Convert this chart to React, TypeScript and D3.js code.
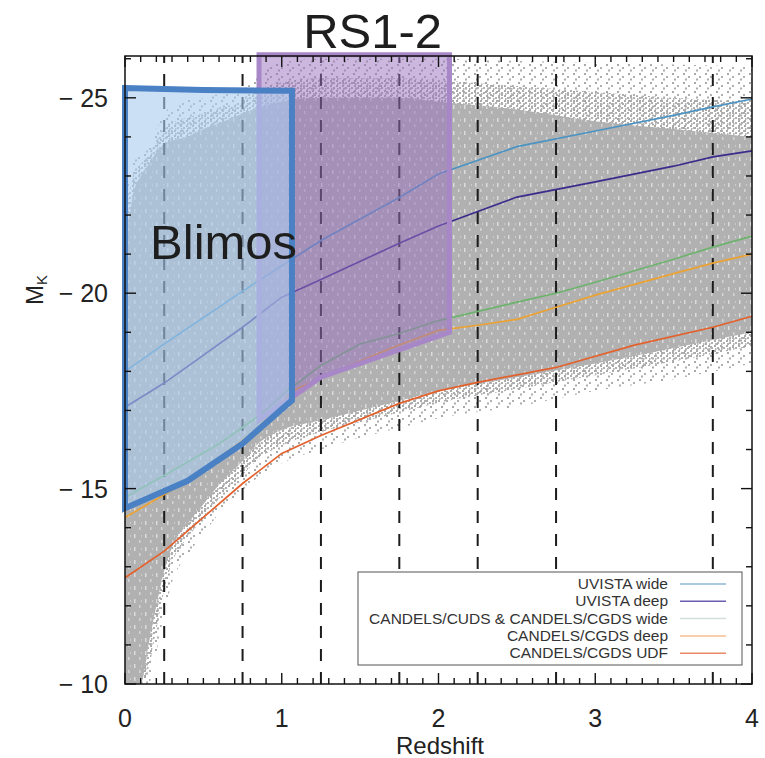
import React from 'react';
import * as d3 from 'd3';

const W = 765;
const H = 758;

// axis ticks
const xTickValues = [0, 1, 2, 3, 4];
const yTickValues = [-25, -20, -15, -10];
const dashedRedshifts = [0.25, 0.75, 1.25, 1.75, 2.25, 2.75, 3.75];

// gray galaxy cloud envelope
const cloudZ = [0, 0.05, 0.1, 0.15, 0.2, 0.25, 0.3, 0.4, 0.5, 0.6, 0.75, 0.85, 1.0, 1.25, 1.5, 1.75, 2.0, 2.5, 3.0, 3.5, 4.0];
const cloudSparseTop = [-22.5, -23.4, -23.6, -23.8, -24.2, -24.6, -24.8, -24.95, -25.0, -25.1, -25.2, -25.6, -25.9, -26.0, -26.0, -26.0, -26.0, -25.95, -25.9, -25.85, -25.8];
const cloudMidTop = [-21.8, -23.0, -23.3, -23.55, -23.9, -24.2, -24.35, -24.5, -24.6, -24.75, -24.9, -25.2, -25.4, -25.5, -25.5, -25.5, -25.45, -25.3, -25.15, -25.0, -24.9];
const cloudDenseTop = [-21.0, -22.5, -23.0, -23.3, -23.6, -23.8, -23.9, -24.0, -24.2, -24.35, -24.6, -24.75, -24.9, -25.0, -25.0, -25.0, -24.9, -24.7, -24.4, -24.2, -24.0];
const cloudDenseBottom = [-10, -10, -10, -11.0, -12.0, -12.9, -13.5, -14.1, -14.6, -15.1, -15.7, -16.15, -16.5, -16.75, -17.0, -17.25, -17.5, -17.85, -18.2, -18.6, -19.0];
const cloudMidBottom = [-10, -10, -10, -10.4, -11.4, -12.4, -13.1, -13.75, -14.25, -14.75, -15.35, -15.75, -16.1, -16.45, -16.7, -16.95, -17.2, -17.55, -17.9, -18.25, -18.65];
const cloudSparseBottom = [-10, -10, -10, -10, -10.8, -11.8, -12.6, -13.3, -13.85, -14.35, -14.95, -15.3, -15.65, -16.0, -16.3, -16.55, -16.8, -17.1, -17.5, -17.8, -18.2];

// completeness curves
const uvistaWideZ = [0, 0.25, 0.75, 1.25, 1.75, 2.0, 2.5, 3.0, 3.5, 3.75, 4.0];
const uvistaWideM = [-18.0, -18.7, -20.05, -21.35, -22.45, -23.05, -23.75, -24.15, -24.55, -24.77, -24.97];
const uvistaDeepZ = [0, 0.25, 0.75, 1.0, 1.25, 1.75, 2.0, 2.5, 3.0, 3.5, 3.75, 4.0];
const uvistaDeepM = [-17.08, -17.7, -19.13, -19.9, -20.35, -21.28, -21.72, -22.46, -22.85, -23.25, -23.49, -23.64];
const candelsWideZ = [0, 0.3, 0.6, 0.85, 1.05, 1.25, 1.5, 1.75, 2.0, 2.5, 2.75, 3.0, 3.5, 3.75, 4.0];
const candelsWideM = [-14.77, -15.45, -16.15, -16.85, -17.55, -18.15, -18.7, -18.97, -19.3, -19.77, -20.0, -20.28, -20.87, -21.18, -21.46];
const candelsDeepZ = [0, 0.4, 0.82, 1.07, 1.25, 1.7, 2.0, 2.25, 2.5, 2.75, 3.0, 3.5, 3.75, 4.0];
const candelsDeepM = [-14.26, -15.2, -16.45, -17.5, -17.85, -18.6, -19.05, -19.18, -19.33, -19.64, -19.95, -20.5, -20.77, -21.0];
const candelsUdfZ = [0, 0.25, 0.75, 1.0, 1.25, 1.75, 2.0, 2.25, 2.75, 3.25, 3.75, 4.0];
const candelsUdfM = [-12.72, -13.4, -15.13, -15.9, -16.36, -17.18, -17.5, -17.72, -18.1, -18.67, -19.13, -19.41];

const seriesNames = ['UVISTA wide', 'UVISTA deep', 'CANDELS/CUDS & CANDELS/CGDS wide', 'CANDELS/CGDS deep', 'CANDELS/CGDS UDF'];
const seriesColors = ['#4b93c3', '#3b2c8c', '#6db36d', '#eba232', '#e2612c'];
const legendColors = ['#8ab8d6', '#6a5fae', '#d3e0d8', '#f4bf90', '#e8896a'];

// selection boxes (redshift, M_K vertices)
const blimosZ = [0, 0.5, 1.065, 1.065, 0.75, 0.4, 0];
const blimosM = [-25.25, -25.2, -25.18, -17.26, -16.15, -15.2, -14.5];
const rsZ = [0.855, 2.07, 2.07, 1.25, 0.855];
const rsM = [-26.1, -26.1, -19.0, -17.85, -16.75];

const blimosLabel = { text: 'Blimos', z: 0.16, m: -20.87 };
const rsLabel = { text: 'RS1-2', z: 1.58, m: -26.28 };

const FONT = "'Liberation Sans', Arial, Helvetica, sans-serif";

export default function App() {
  const x = d3.scaleLinear().domain([0, 4]).range([125, 752]);
  const y = d3.scaleLinear().domain([-10, -26.07]).range([684, 56]);
  const [x0, x1] = x.range();
  const yBot = y(-10);
  const yTop = y(-26.07);

  const band = (lo: number[], hi: number[]) =>
    d3
      .area<number>()
      .x((_, i) => x(cloudZ[i]))
      .y0((_, i) => y(lo[i]))
      .y1((_, i) => y(hi[i]))
      .curve(d3.curveMonotoneX)(cloudZ) as string;

  const sparsePath = band(cloudSparseBottom, cloudSparseTop);
  const midPath = band(cloudMidBottom, cloudMidTop);
  const densePath = band(cloudDenseBottom, cloudDenseTop);

  const seriesZ = [uvistaWideZ, uvistaDeepZ, candelsWideZ, candelsDeepZ, candelsUdfZ];
  const seriesM = [uvistaWideM, uvistaDeepM, candelsWideM, candelsDeepM, candelsUdfM];
  const lineGen = (zs: number[], ms: number[]) =>
    d3
      .line<number>()
      .x((_, i) => x(zs[i]))
      .y((_, i) => y(ms[i]))(zs) as string;

  const polyGen = (zs: number[], ms: number[]) => lineGen(zs, ms) + 'Z';

  const xMinor = d3.range(0, 41).map((i) => i / 10);
  const yMinor = d3.range(-26, -9);

  const legendX0 = 358;
  const legendY0 = 572;
  const legendW = 384;
  const legendH = 93;
  const legendRowY = (i: number) => 584 + i * 17.3;

  return (
    <svg
      width={W}
      height={H}
      viewBox={`0 0 ${W} ${H}`}
      style={{ position: 'absolute', left: 0, top: 0, background: '#fff' }}
      fontFamily={FONT}
    >
      <defs>
        <pattern id="fringe" width="11" height="9" patternUnits="userSpaceOnUse">
          <rect x="1" y="1" width="2" height="2" fill="#a9a9a9" />
          <rect x="6" y="4" width="2" height="2" fill="#b0b0b0" />
          <rect x="3" y="6.5" width="2" height="2" fill="#adadad" />
        </pattern>
        <pattern id="mid" width="6" height="5" patternUnits="userSpaceOnUse">
          <rect x="0" y="0" width="2" height="2" fill="#aaaaaa" />
          <rect x="3" y="2" width="2" height="2" fill="#b0b0b0" />
          <rect x="1" y="3" width="1.5" height="2" fill="#b4b4b4" />
        </pattern>
        <pattern id="specks" width="11" height="13" patternUnits="userSpaceOnUse">
          <rect x="2" y="1" width="1.5" height="4" fill="#fff" opacity="0.55" />
          <rect x="7" y="7" width="1.5" height="3" fill="#fff" opacity="0.45" />
          <rect x="9" y="2" width="1" height="2" fill="#fff" opacity="0.35" />
        </pattern>
        <clipPath id="plotClip">
          <rect x={x0} y={yTop} width={x1 - x0} height={yBot - yTop} />
        </clipPath>
      </defs>

      {/* gray cloud */}
      <g clipPath="url(#plotClip)">
        <path d={sparsePath} fill="url(#fringe)" />
        <path d={midPath} fill="url(#mid)" />
        <path d={densePath} fill="#b1b1b1" />
        <path d={densePath} fill="url(#specks)" />
      </g>

      {/* dashed redshift bins */}
      {dashedRedshifts.map((z) => (
        <line
          key={'d' + z}
          x1={x(z)}
          x2={x(z)}
          y1={yBot}
          y2={yTop}
          stroke="#1c1c1c"
          strokeWidth={2}
          strokeDasharray="12,11"
        />
      ))}

      {/* completeness curves */}
      {seriesZ.map((zs, i) => (
        <path
          key={'s' + i}
          d={lineGen(zs, seriesM[i])}
          fill="none"
          stroke={seriesColors[i]}
          strokeWidth={1.7}
        />
      ))}

      {/* RS1-2 box */}
      <path
        d={polyGen(rsZ, rsM)}
        fill="#9a72c0"
        fillOpacity={0.5}
        stroke="#a887c8"
        strokeWidth={5}
        strokeLinejoin="miter"
      />
      {/* Blimos box */}
      <path
        d={polyGen(blimosZ, blimosM)}
        fill="#aacbee"
        fillOpacity={0.6}
        stroke="#4a80c4"
        strokeWidth={6}
        strokeLinejoin="miter"
      />

      {/* frame */}
      <rect x={x0} y={yTop} width={x1 - x0} height={yBot - yTop} fill="none" stroke="#111" strokeWidth={1.5} />

      {/* x ticks */}
      {xMinor.map((v, i) => {
        const len = i % 10 === 0 ? 11 : 6;
        return (
          <g key={'xt' + i} stroke="#111" strokeWidth={1.4}>
            <line x1={x(v)} x2={x(v)} y1={yBot} y2={yBot - len} />
            <line x1={x(v)} x2={x(v)} y1={yTop} y2={yTop + len} />
          </g>
        );
      })}
      {/* y ticks */}
      {yMinor.map((v) => {
        const len = v % 5 === 0 ? 11 : 6;
        return (
          <g key={'yt' + v} stroke="#111" strokeWidth={1.4}>
            <line x1={x0} x2={x0 + len} y1={y(v)} y2={y(v)} />
            <line x1={x1} x2={x1 - len} y1={y(v)} y2={y(v)} />
          </g>
        );
      })}

      {/* tick labels */}
      {xTickValues.map((v) => (
        <text key={'xl' + v} x={x(v)} y={727} textAnchor="middle" fontSize={25} fill="#222">
          {d3.format('d')(v)}
        </text>
      ))}
      {yTickValues.map((v) => (
        <text key={'yl' + v} x={108} y={y(v) + 9} textAnchor="end" fontSize={25} fill="#222">
          {'\u2212 ' + Math.abs(v)}
        </text>
      ))}

      {/* axis titles */}
      <text x={440} y={754} textAnchor="middle" fontSize={24} fill="#222">
        Redshift
      </text>
      <text transform={`translate(43, 290) rotate(-90)`} textAnchor="middle" fontSize={24} fill="#222">
        M<tspan fontSize={15} dy={4}>K</tspan>
      </text>

      {/* annotations */}
      <text x={x(blimosLabel.z)} y={y(blimosLabel.m)} fontSize={49} fill="#1e1e1e">
        {blimosLabel.text}
      </text>
      <text x={x(rsLabel.z)} y={y(rsLabel.m)} textAnchor="middle" fontSize={49} fill="#1e1e1e">
        {rsLabel.text}
      </text>

      {/* legend */}
      <rect x={legendX0} y={legendY0} width={legendW} height={legendH} fill="#fff" stroke="#555" strokeWidth={1} />
      {seriesNames.map((name, i) => (
        <g key={'lg' + i}>
          <text x={668} y={legendRowY(i) + 5} textAnchor="end" fontSize={15.5} fill="#333">
            {name}
          </text>
          <line x1={680} x2={726} y1={legendRowY(i)} y2={legendRowY(i)} stroke={legendColors[i]} strokeWidth={1.5} />
        </g>
      ))}
    </svg>
  );
}
